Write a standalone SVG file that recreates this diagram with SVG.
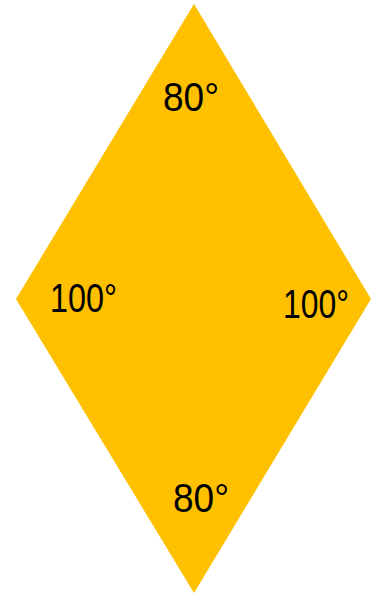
<svg xmlns="http://www.w3.org/2000/svg" width="373" height="594" viewBox="0 0 373 594">
<style>
.lbl{font-family:"Liberation Sans","DejaVu Sans",sans-serif;font-size:40px;fill:#000;}
</style>
<rect width="373" height="594" fill="#fff"/>
<g id="rhombus">
<polygon points="194,4 371,299 194,593 16,299" fill="#FFC000"/>
</g>
<g id="labels">
<text class="lbl" x="163" y="111" textLength="56" lengthAdjust="spacingAndGlyphs">80°</text>
<text class="lbl" x="50" y="312" textLength="67" lengthAdjust="spacingAndGlyphs">100°</text>
<text class="lbl" x="283" y="318" textLength="66" lengthAdjust="spacingAndGlyphs">100°</text>
<text class="lbl" x="173" y="512" textLength="56" lengthAdjust="spacingAndGlyphs">80°</text>
</g>
</svg>
